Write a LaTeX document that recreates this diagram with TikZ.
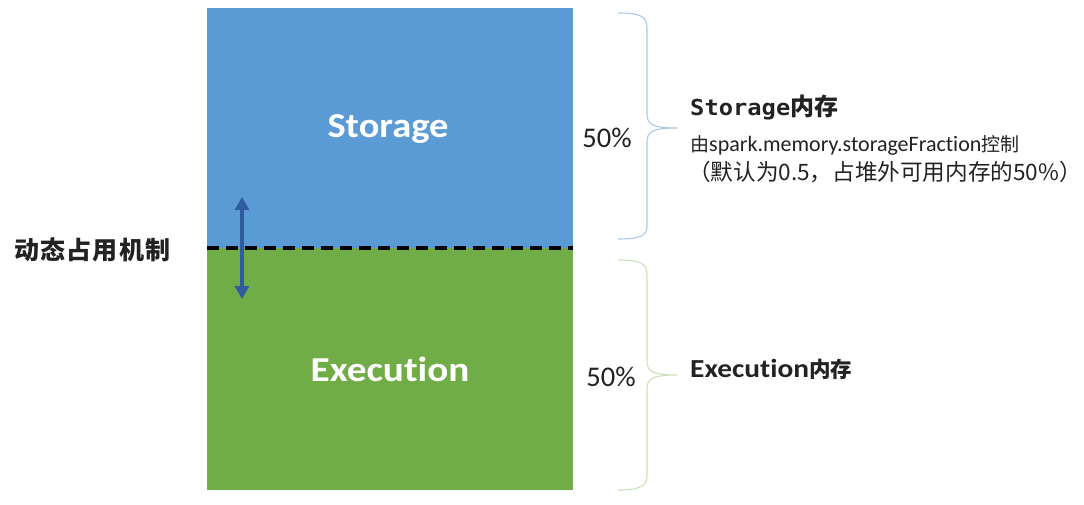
\documentclass[tikz,border=0pt]{standalone}
\usepackage{fontspec}
\setmainfont[Ligatures=NoCommon]{Carlito}
\newfontfamily\cjk{Noto Sans CJK SC}
\newfontfamily\monob{DejaVu Sans Mono}
\usetikzlibrary{arrows.meta}
\definecolor{stblue}{HTML}{5B9BD5}
\definecolor{exgreen}{HTML}{70AD47}
\definecolor{arrblue}{HTML}{2E5C9E}
\definecolor{brblue}{HTML}{A9C8E8}
\definecolor{brgreen}{HTML}{C9E0B8}
\definecolor{txt}{HTML}{222222}
\tikzset{
  region/.style={draw=none, minimum width=366pt, anchor=north west, inner sep=0pt},
  bigtext/.style={text=white, font=\fontsize{35}{40}\selectfont\bfseries},
  pct/.style={text=txt, font=\fontsize{28.5}{32}\selectfont},
  label/.style={text=txt, anchor=west, inner sep=0pt},
  bracepath/.style={line width=1.1pt},
}
\begin{document}
\begin{tikzpicture}[x=1pt,y=-1pt]
\useasboundingbox (0,0) rectangle (1084,505);
% regions
\node[region, fill=stblue, minimum height=240pt] (st) at (207,8) {};
\node[region, fill=exgreen, minimum height=242pt] (ex) at (207,248) {};
\node[bigtext] (stt) at (388,129) {\scalebox{1.1}[1]{Storage}};
\node[bigtext] (ext) at (390,369) {\scalebox{1.12}[1]{Execution}};
% dashed boundary
\coordinate (dl) at (207,248);
\coordinate (dr) at (573,248);
\draw[line width=3.2pt, dash pattern=on 12pt off 7pt] (dl) -- (dr);
% arrow
\coordinate (at) at (242,197);
\coordinate (ab) at (242,299);
\draw[arrblue, line width=3.6pt, {Triangle[length=13pt,width=14pt]}-{Triangle[length=13pt,width=14pt]}] (at) -- (ab);
% left label
\node[label, font=\cjk\fontsize{25}{28}\selectfont\bfseries] (dyn) at (14,250) {动\hspace{1.2pt}态\hspace{1.2pt}占\hspace{1.2pt}用\hspace{1.2pt}机\hspace{1.2pt}制};
% percentages
\node[pct] (p1) at (607,138) {50\%};
\node[pct] (p2) at (611,377) {50\%};
% braces
\draw[brblue, bracepath] (618,13) .. controls (640,13) and (647,16) .. (647,28)
  -- (647,114) .. controls (647,124) and (652,128) .. (677,128)
  .. controls (652,128) and (647,132) .. (647,142)
  -- (647,226) .. controls (647,236) and (640,239) .. (618,239);
\draw[brgreen, bracepath] (618,260) .. controls (640,260) and (647,263) .. (647,275)
  -- (647,361) .. controls (647,371) and (652,375) .. (677,375)
  .. controls (652,375) and (647,379) .. (647,389)
  -- (647,476) .. controls (647,486) and (640,490) .. (618,490);
% right labels
\node[label] (sl1) at (690,108) {\scalebox{1.08}[1]{\monob\fontsize{22}{25}\selectfont\bfseries Storage}{\cjk\fontsize{24}{27}\selectfont\bfseries 内存}};
\node[label, font=\fontsize{22}{24}\selectfont] (sl2) at (690,145) {{\cjk\fontsize{19}{22}\selectfont 由}spark.memory.storageFraction{\cjk\fontsize{19}{22}\selectfont 控制}};
\node[label, font=\cjk\fontsize{22.6}{25}\selectfont] (sl3) at (688,172) {（默认为0.5，占堆外可用内存的50\%）};
\node[label] (el) at (690,369) {\scalebox{1.13}[1]{\fontsize{26}{30}\selectfont\bfseries Execution}{\cjk\fontsize{21.5}{24}\selectfont\bfseries 内存}};
\end{tikzpicture}
\end{document}
